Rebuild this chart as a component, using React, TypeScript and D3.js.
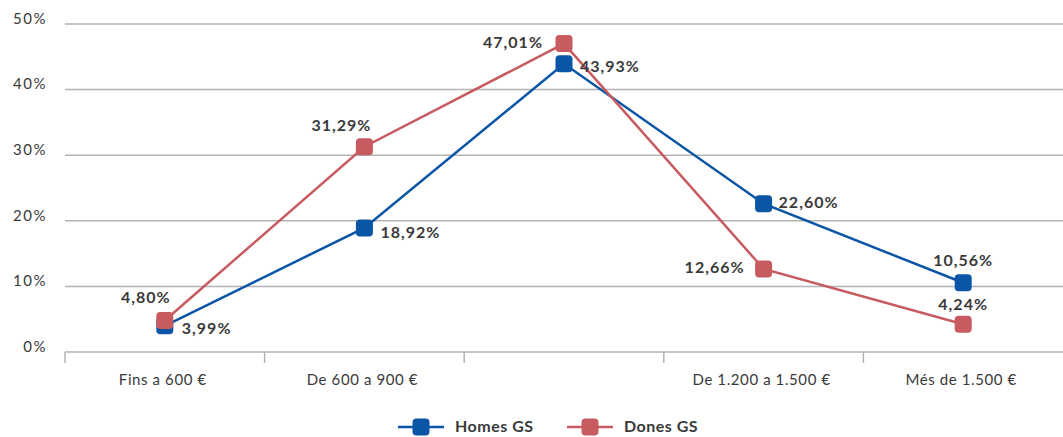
import React from "react";
import * as d3 from "d3";

const categories = ["c1", "c2", "c3", "c4", "c5"];
const tickLabels = ["Fins a 600 €", "De 600 a 900 €", "", "De 1.200 a 1.500 €", "Més de 1.500 €"];
const homesValues = [3.99, 18.92, 43.93, 22.6, 10.56];
const donesValues = [4.8, 31.29, 47.01, 12.66, 4.24];
const yTicks = [0, 10, 20, 30, 40, 50];
const seriesNames = ["Homes GS", "Dones GS"];

const W = 1063;
const H = 437;
const BLUE = "#0a55a6";
const RED = "#c75b60";
const GRID = "#b4b4b4";
const TEXT = "#3a3a3a";
const FONT = "Lato, 'Open Sans', sans-serif";

// label placement: [dx, dy, anchor]
const homesPlace: [number, number, string][] = [
  [17, 4, "start"],
  [16, 6, "start"],
  [16, 4, "start"],
  [15, 0, "start"],
  [0, -21, "middle"],
];
const donesPlace: [number, number, string][] = [
  [-19, -22, "middle"],
  [-23, -20, "middle"],
  [-21, 0, "end"],
  [-19, 0, "end"],
  [0, -18, "middle"],
];

const fmt = (v: number) => v.toFixed(2).replace(".", ",") + "%";

export default function App() {
  const x = d3.scaleBand<string>().domain(categories).range([65, 1063]);
  const y = d3.scaleLinear().domain([0, 50]).range([352, 24]);
  const cx = (c: string) => (x(c) as number) + x.bandwidth() / 2;
  const line = d3
    .line<number>()
    .x((_, i) => cx(categories[i]))
    .y((d) => y(d));

  const series = [
    { name: seriesNames[0], values: homesValues, color: BLUE, place: homesPlace },
    { name: seriesNames[1], values: donesValues, color: RED, place: donesPlace },
  ];
  const ms = 17;

  return (
    <svg
      width={W}
      height={H}
      style={{ position: "absolute", left: 0, top: 0, background: "#fff" }}
      fontFamily={FONT}
    >
      {yTicks.map((t) => (
        <g key={t}>
          {t > 0 && (
            <line x1={65} x2={W} y1={y(t)} y2={y(t)} stroke={GRID} strokeWidth={1.5} />
          )}
          <text x={47} y={y(t) - 4} textAnchor="end" dominantBaseline="middle" fontSize={15} letterSpacing={1.5} fill={TEXT}>
            {t}%
          </text>
        </g>
      ))}
      <line x1={65} x2={W} y1={352} y2={352} stroke={GRID} strokeWidth={1.5} />
      {categories.map((c) => (
        <line key={c} x1={x(c)} x2={x(c)} y1={352} y2={363} stroke={GRID} strokeWidth={1.5} />
      ))}
      {categories.map((c, i) => (
        <text key={c} x={cx(c) - 2} y={381} textAnchor="middle" dominantBaseline="middle" fontSize={15} letterSpacing={0.6} fill={TEXT}>
          {tickLabels[i]}
        </text>
      ))}
      {series.map((s) => (
        <g key={s.name}>
          <path d={line(s.values) || ""} fill="none" stroke={s.color} strokeWidth={2.5} />
          {s.values.map((v, i) => (
            <rect
              key={i}
              x={cx(categories[i]) - ms / 2}
              y={y(v) - ms / 2}
              width={ms}
              height={ms}
              rx={4}
              fill={s.color}
            />
          ))}
        </g>
      ))}
      {series.map((s) =>
        s.values.map((v, i) => (
          <text
            key={s.name + i}
            x={cx(categories[i]) + s.place[i][0]}
            y={y(v) + s.place[i][1]}
            textAnchor={s.place[i][2] as any}
            dominantBaseline="middle"
            fontSize={16}
            fontWeight="bold"
            letterSpacing={1}
            fill={TEXT}
          >
            {fmt(v)}
          </text>
        ))
      )}
      {series.map((s, i) => {
        const lx = 398 + i * 169;
        return (
          <g key={s.name}>
            <line x1={lx} x2={lx + 46} y1={427} y2={427} stroke={s.color} strokeWidth={2.5} />
            <rect x={lx + 23 - ms / 2} y={427 - ms / 2} width={ms} height={ms} rx={4} fill={s.color} />
            <text x={lx + 57} y={428} dominantBaseline="middle" fontSize={16} fontWeight="bold" letterSpacing={0.5} fill={TEXT}>
              {s.name}
            </text>
          </g>
        );
      })}
    </svg>
  );
}
